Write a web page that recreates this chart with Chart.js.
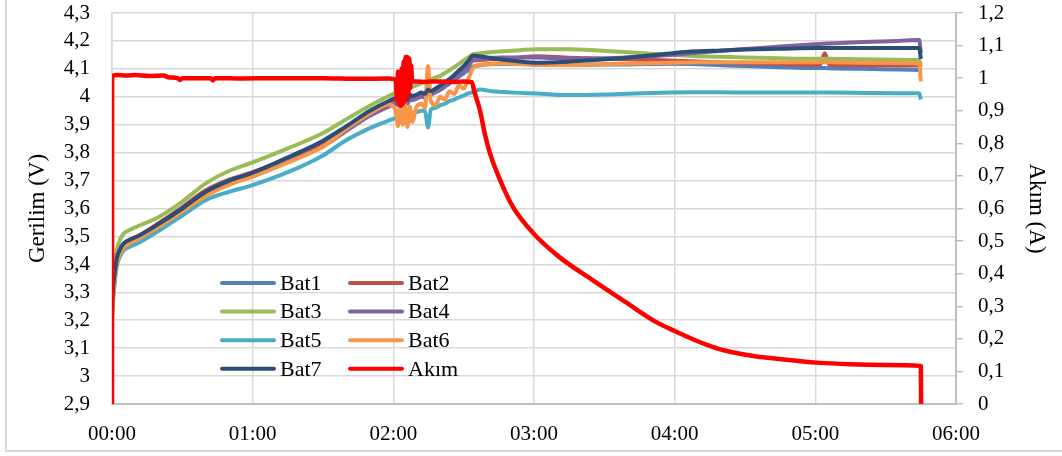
<!DOCTYPE html>
<html>
<head>
<meta charset="utf-8">
<script src="https://cdn.jsdelivr.net/npm/chart.js@4.4.1/dist/chart.umd.min.js"></script>
<style>
  html, body { margin: 0; padding: 0; background: #ffffff; }
  canvas { display: block; }
</style>
</head>
<body>
<canvas id="chart" width="1062" height="456"></canvas>
<script>
// Elapsed time of each voltage sample, in minutes
const minutes = [
  0, 0.5, 1, 2, 3.5, 5, 8, 12, 20, 30,
  40, 50, 60, 75, 90, 100, 110, 118, 121, 122,
  123, 124, 125, 126, 127, 128, 130, 132, 133.5, 134.8,
  136, 138, 140, 142, 144, 146, 148, 150, 152, 154,
  157, 162, 167, 174, 181, 195, 217, 238, 247, 260,
  270, 285, 300, 302, 304, 306, 320, 335, 344.3, 345
];

// Cell voltages (V)
const bat1 = [
  3.235, 3.305, 3.35, 3.41, 3.448, 3.47, 3.486, 3.50, 3.54, 3.595,
  3.655, 3.695, 3.722, 3.775, 3.832, 3.885, 3.938, 3.972, 3.984, 3.975,
  3.99, 3.972, 3.994, 3.98, 3.997, 3.994, 3.998, 4.004, 4.0, 4.013,
  4.01, 4.018, 4.026, 4.037, 4.048, 4.06, 4.072, 4.084, 4.096, 4.108,
  4.113, 4.117, 4.118, 4.117, 4.115, 4.114, 4.116, 4.118, 4.117, 4.113,
  4.11, 4.106, 4.103, 4.103, 4.103, 4.102, 4.1, 4.098, 4.096, 4.088
];
const bat2 = [
  3.24, 3.31, 3.355, 3.415, 3.45, 3.472, 3.488, 3.505, 3.548, 3.605,
  3.665, 3.703, 3.73, 3.78, 3.838, 3.89, 3.944, 3.978, 3.99, 3.98,
  3.995, 3.978, 4.0, 3.986, 4.003, 4.0, 4.004, 4.01, 4.006, 4.02,
  4.016, 4.025, 4.034, 4.046, 4.058, 4.071, 4.086, 4.1, 4.115, 4.13,
  4.132, 4.134, 4.136, 4.141, 4.145, 4.14, 4.134, 4.13, 4.127, 4.123,
  4.12, 4.117, 4.114, 4.114, 4.156, 4.114, 4.113, 4.112, 4.112, 4.105
];
const bat3 = [
  3.30, 3.36, 3.40, 3.45, 3.49, 3.51, 3.525, 3.54, 3.57, 3.625,
  3.69, 3.735, 3.765, 3.815, 3.87, 3.92, 3.968, 4.003, 4.014, 4.017,
  4.02, 4.023, 4.026, 4.029, 4.032, 4.035, 4.042, 4.049, 4.054, 4.059,
  4.063, 4.069, 4.075, 4.085, 4.095, 4.106, 4.118, 4.13, 4.141, 4.152,
  4.156, 4.16, 4.163, 4.167, 4.17, 4.17, 4.161, 4.15, 4.146, 4.143,
  4.141, 4.138, 4.136, 4.136, 4.136, 4.136, 4.134, 4.133, 4.132, 4.108
];
const bat4 = [
  3.23, 3.30, 3.345, 3.405, 3.445, 3.466, 3.482, 3.497, 3.537, 3.59,
  3.648, 3.688, 3.716, 3.768, 3.822, 3.878, 3.932, 3.965, 3.975, 3.97,
  3.98, 3.97, 3.985, 3.975, 3.99, 3.988, 3.993, 4.0, 3.997, 4.01,
  4.008, 4.016, 4.025, 4.037, 4.05, 4.064, 4.079, 4.095, 4.112, 4.132,
  4.137, 4.14, 4.141, 4.141, 4.141, 4.136, 4.14, 4.15, 4.156, 4.165,
  4.171, 4.18, 4.188, 4.189, 4.19, 4.191, 4.196, 4.2, 4.203, 4.157
];
const bat5 = [
  3.20, 3.27, 3.32, 3.39, 3.43, 3.45, 3.465, 3.48, 3.52, 3.575,
  3.63, 3.66, 3.684, 3.73, 3.79, 3.845, 3.888, 3.915, 3.925, 3.93,
  3.928, 3.935, 3.93, 3.938, 3.933, 3.94, 3.945, 3.95, 3.948, 3.89,
  3.955, 3.96, 3.97, 3.975, 3.985, 3.99, 3.998, 4.005, 4.012, 4.017,
  4.026, 4.02, 4.017, 4.014, 4.012, 4.006, 4.01, 4.015, 4.016, 4.016,
  4.015, 4.015, 4.015, 4.015, 4.015, 4.015, 4.014, 4.013, 4.013, 3.99
];
const bat6 = [
  3.22, 3.29, 3.33, 3.40, 3.44, 3.46, 3.478, 3.495, 3.535, 3.59,
  3.645, 3.685, 3.714, 3.765, 3.822, 3.885, 3.94, 3.972, 3.95, 3.895,
  3.975, 3.90, 3.97, 3.892, 3.965, 3.91, 3.965, 3.975, 3.96, 4.11,
  3.985, 3.97, 4.0, 3.99, 4.02, 4.01, 4.04, 4.03, 4.065, 4.103,
  4.115, 4.118, 4.12, 4.117, 4.115, 4.114, 4.118, 4.122, 4.123, 4.124,
  4.124, 4.124, 4.124, 4.124, 4.124, 4.124, 4.122, 4.121, 4.12, 4.055
];
const bat7 = [
  3.25, 3.32, 3.36, 3.42, 3.455, 3.475, 3.49, 3.505, 3.545, 3.60,
  3.66, 3.70, 3.728, 3.783, 3.843, 3.895, 3.95, 3.985, 3.995, 3.985,
  4.0, 3.982, 4.005, 3.99, 4.008, 4.003, 4.008, 4.015, 4.01, 4.025,
  4.02, 4.03, 4.04, 4.052, 4.064, 4.078, 4.094, 4.11, 4.128, 4.148,
  4.145, 4.138, 4.133, 4.126, 4.122, 4.126, 4.138, 4.155, 4.162, 4.166,
  4.169, 4.172, 4.175, 4.175, 4.175, 4.175, 4.175, 4.175, 4.175, 4.135
];

// Charging current: sample times (minutes) and values (A)
const akimMinutes = [
  0, 0.05, 2, 6, 10, 16, 22, 24, 28, 29,
  30, 42, 43, 44, 55, 70, 90, 105, 118, 121,
  121.6, 122, 122.4, 122.8, 123.2, 123.6, 124, 124.4, 124.8, 125.2,
  125.6, 126, 126.4, 126.8, 127.2, 127.6, 128, 130, 134, 135,
  140, 145, 150, 153.5, 154.5, 157, 159, 161.2, 165.5, 171,
  179.6, 191, 205, 219.6, 232, 240, 248, 254, 258, 264.6,
  275, 283.6, 300.7, 314.8, 328.8, 345, 345.1
];
const akim = [
  0, 1.005, 1.01, 1.008, 1.01, 1.007, 1.008, 1.003, 1.0, 0.994,
  1.0, 1.0, 0.993, 1.0, 0.999, 1.0, 1.0, 0.998, 0.999, 0.995,
  0.93, 1.02, 0.92, 1.01, 0.915, 1.03, 0.92, 1.05, 0.93, 1.065,
  0.94, 1.065, 0.95, 1.06, 0.97, 1.04, 0.99, 0.99, 0.988, 0.99,
  0.99, 0.988, 0.99, 0.988, 0.96, 0.9, 0.83, 0.77, 0.688, 0.605,
  0.525, 0.45, 0.38, 0.31, 0.252, 0.224, 0.198, 0.181, 0.171, 0.159,
  0.146, 0.139, 0.127, 0.122, 0.12, 0.117, 0
];

const seriesNames = ['Bat1', 'Bat2', 'Bat3', 'Bat4', 'Bat5', 'Bat6', 'Bat7', 'Akım'];
const seriesColors = ['#4F81BD', '#C0504D', '#9BBB59', '#8064A2', '#4BACC6', '#F79646', '#2C4D75', '#FF0000'];
const voltageSeries = [bat1, bat2, bat3, bat4, bat5, bat6, bat7];

const FONT = 'Liberation Serif, Times New Roman, serif';

const datasets = voltageSeries.map((vals, i) => ({
  label: seriesNames[i],
  data: minutes.map((m, k) => ({ x: m, y: vals[k] })),
  borderColor: seriesColors[i],
  backgroundColor: seriesColors[i],
  borderWidth: 4,
  pointRadius: 0,
  cubicInterpolationMode: 'monotone',
  borderJoinStyle: 'round',
  yAxisID: 'y',
  order: 7 - i + 1
}));
datasets.push({
  label: seriesNames[7],
  data: akimMinutes.map((m, k) => ({ x: m, y: akim[k] })),
  borderColor: seriesColors[7],
  backgroundColor: seriesColors[7],
  borderWidth: 4.5,
  pointRadius: 0,
  cubicInterpolationMode: 'monotone',
  borderJoinStyle: 'round',
  yAxisID: 'y1',
  order: 0
});

const commaNum = v => String(Number(v.toFixed(1))).replace('.', ',');
const hhmm = v => String(Math.floor(v / 60)).padStart(2, '0') + ':' + String(Math.round(v % 60)).padStart(2, '0');

// Keep the plot area tight to the top edge of the canvas
const tightVertical = s => { s.paddingTop = 13; s.paddingBottom = 0; };

// White background and the light outer frame
const framePlugin = {
  id: 'frame',
  beforeDraw(chart) {
    const ctx = chart.ctx;
    ctx.save();
    ctx.fillStyle = '#ffffff';
    ctx.fillRect(0, 0, chart.width, chart.height);
    ctx.strokeStyle = '#d9d9d9';
    ctx.lineWidth = 2;
    ctx.beginPath();
    ctx.moveTo(6, 0);
    ctx.lineTo(6, 451);
    ctx.lineTo(chart.width, 451);
    ctx.stroke();
    ctx.restore();
  }
};

// Two-column legend placed inside the plot area
const legendPlugin = {
  id: 'innerLegend',
  afterDraw(chart) {
    const ctx = chart.ctx;
    const area = chart.chartArea;
    ctx.save();
    ctx.font = '22px ' + FONT;
    ctx.textBaseline = 'middle';
    ctx.textAlign = 'left';
    chart.data.datasets.forEach((ds, i) => {
      const col = i % 2;
      const row = Math.floor(i / 2);
      const x0 = area.left + 110 + col * 128;
      const y = area.top + 270 + row * 28.6;
      ctx.strokeStyle = ds.borderColor;
      ctx.lineWidth = 4;
      ctx.lineCap = 'round';
      ctx.beginPath();
      ctx.moveTo(x0, y);
      ctx.lineTo(x0 + 52, y);
      ctx.stroke();
      ctx.fillStyle = '#000000';
      ctx.fillText(ds.label, x0 + 58, y + 1);
    });
    ctx.restore();
  }
};

new Chart(document.getElementById('chart'), {
  type: 'line',
  data: { datasets },
  options: {
    responsive: false,
    animation: false,
    layout: { padding: { top: 13, left: 0, right: 0, bottom: 0 } },
    plugins: { legend: { display: false }, tooltip: { enabled: false } },
    scales: {
      x: {
        type: 'linear',
        min: 0,
        max: 360,
        ticks: {
          stepSize: 60,
          autoSkip: false,
          callback: v => hhmm(v),
          color: '#000000',
          font: { family: FONT, size: 21 },
          padding: 18,
          maxRotation: 0
        },
        grid: { color: '#d9d9d9', lineWidth: 1.5, drawTicks: false },
        border: { color: '#bfbfbf', width: 2 },
        afterFit: s => { s.height = 52; }
      },
      y: {
        position: 'left',
        min: 2.9,
        max: 4.3,
        ticks: {
          stepSize: 0.1,
          autoSkip: false,
          callback: v => commaNum(v),
          color: '#000000',
          font: { family: FONT, size: 21 },
          padding: 22
        },
        grid: { color: '#d9d9d9', lineWidth: 1.5, drawTicks: false },
        border: { color: '#d9d9d9', width: 1.5 },
        title: {
          display: true,
          text: 'Gerilim (V)',
          color: '#000000',
          font: { family: FONT, size: 23 },
          padding: { top: 24, bottom: 0 }
        },
        afterFit: s => { s.width = 112; tightVertical(s); }
      },
      y1: {
        position: 'right',
        min: 0,
        max: 1.2,
        ticks: {
          stepSize: 0.1,
          autoSkip: false,
          callback: v => commaNum(v),
          color: '#000000',
          font: { family: FONT, size: 21 },
          padding: 15
        },
        grid: { drawOnChartArea: false, drawTicks: true, tickLength: 7, color: '#bfbfbf', lineWidth: 1.5 },
        border: { color: '#bfbfbf', width: 2 },
        title: {
          display: true,
          text: 'Akım (A)',
          color: '#000000',
          font: { family: FONT, size: 23 },
          padding: { top: 12, bottom: 0 }
        },
        afterFit: s => { s.width = 106; tightVertical(s); }
      }
    }
  },
  plugins: [framePlugin, legendPlugin]
});
</script>
</body>
</html>
